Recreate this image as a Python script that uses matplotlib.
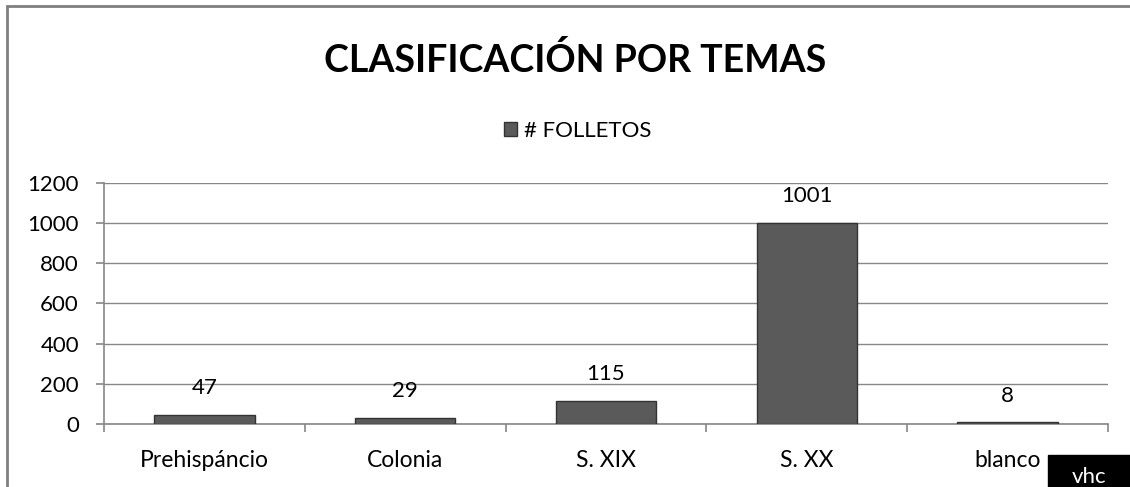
import matplotlib.pyplot as plt
from matplotlib.patches import Rectangle
import numpy as np

plt.rcParams['font.family'] = ['Lato', 'DejaVu Sans']

categorias = ['Prehispáncio', 'Colonia', 'S. XIX', 'S. XX', 'blanco']
folletos = [47, 29, 115, 1001, 8]
yticks = [0, 200, 400, 600, 800, 1000, 1200]

fig = plt.figure(figsize=(11.3, 4.87), dpi=100)
ax = fig.add_axes([0.092, 0.1294, 0.8885, 0.4948])

gris = '#868686'
x = np.arange(len(categorias))
barras = ax.bar(x, folletos, width=0.5, color='#5a5a5a', edgecolor='#333333',
                linewidth=1.0, label='# FOLLETOS', zorder=3)

for xi, v in zip(x, folletos):
    ax.annotate(str(v), (xi, v), xytext=(0, 12), textcoords='offset points',
                ha='center', va='bottom', fontsize=16, color='black')

ax.set_xlim(-0.5, len(categorias) - 0.5)
ax.set_ylim(0, 1200)
ax.set_yticks(yticks)
ax.set_yticklabels([str(t) for t in yticks], fontsize=16)
ax.set_xticks(x)
ax.set_xticklabels(categorias, fontsize=16.5)
ax.set_xticks(np.arange(-0.5, len(categorias)), minor=True)
ax.tick_params(axis='x', which='major', length=0, pad=19)
ax.tick_params(axis='x', which='minor', length=6, color=gris, width=1.2)
ax.tick_params(axis='y', length=6, color=gris, width=1.2, pad=12)
ax.grid(axis='y', color=gris, linewidth=1.0, zorder=0)
for s in ['top', 'right']:
    ax.spines[s].set_visible(False)
for s in ['left', 'bottom']:
    ax.spines[s].set_color(gris)
    ax.spines[s].set_linewidth(1.2)

fig.text(0.509, 0.877, 'CLASIFICACIÓN POR TEMAS', ha='center', va='center',
         fontsize=27, fontweight='bold')
fig.legend(handles=[barras], labels=['# FOLLETOS'], loc='center',
           bbox_to_anchor=(0.511, 0.731), frameon=False, fontsize=16,
           handlelength=0.6, handleheight=0.6, handletextpad=0.3)

# marco del gráfico
fig.patches.append(Rectangle((7 / 1130, -0.1), 1.2, 1 - 6 / 487 + 0.1, transform=fig.transFigure,
                             fill=False, edgecolor='#7f7f7f', linewidth=2))
# etiqueta negra en la esquina
fig.patches.append(Rectangle((1048 / 1130, 0), 0.1, 32 / 487, transform=fig.transFigure,
                             color='black', zorder=10))
fig.text(1089 / 1130, 10 / 487, 'vhc', color='white', fontsize=16, ha='center',
         va='center', zorder=11)

fig.savefig('out.png', dpi=100)
